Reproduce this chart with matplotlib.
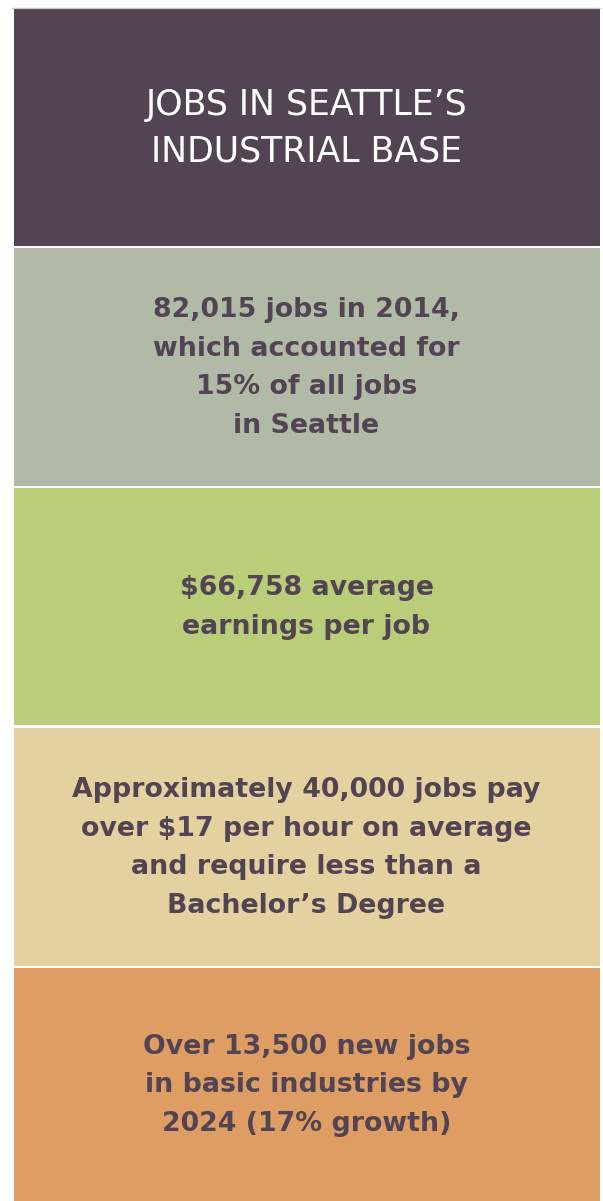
import matplotlib.pyplot as plt

# panel texts, top to bottom
texts = [
    "JOBS IN SEATTLE\u2019S\nINDUSTRIAL BASE",
    "82,015 jobs in 2014,\nwhich accounted for\n15% of all jobs\nin Seattle",
    "$66,758 average\nearnings per job",
    "Approximately 40,000 jobs pay\nover $17 per hour on average\nand require less than a\nBachelor\u2019s Degree",
    "Over 13,500 new jobs\nin basic industries by\n2024 (17% growth)",
]
box_colors = ["#524452", "#B0BAA6", "#BACE79", "#E3D19F", "#DE9D63"]
text_colors = ["#FFFFFF", "#524452", "#524452", "#524452", "#524452"]
box_tops = [9, 248, 488, 728, 968]
box_bottoms = [246, 486, 725, 966, 1201]

fig = plt.figure(figsize=(6.03, 12.01), dpi=100)
ax = fig.add_axes([0, 0, 1, 1])
ax.set_xlim(0, 603)
ax.set_ylim(1201, 0)
ax.axis("off")

heights = [b - t for t, b in zip(box_tops, box_bottoms)]
ax.bar([306.5] * 5, heights, width=586, bottom=box_tops, color=box_colors, linewidth=0)
ax.plot([12, 600], [8, 8], color="#C8C8C8", linewidth=1)

for i, txt in enumerate(texts):
    cy = (box_tops[i] + box_bottoms[i]) / 2
    if i == 0:
        ax.text(306.5, cy + 1, txt, ha="center", va="center", fontsize=25,
                color=text_colors[i], linespacing=1.45, family="DejaVu Sans")
    else:
        ax.text(306.5, cy + 1, txt, ha="center", va="center", fontsize=19.3,
                fontweight="bold", color=text_colors[i], linespacing=1.62,
                family="DejaVu Sans")

fig.savefig("out.png", dpi=100)
